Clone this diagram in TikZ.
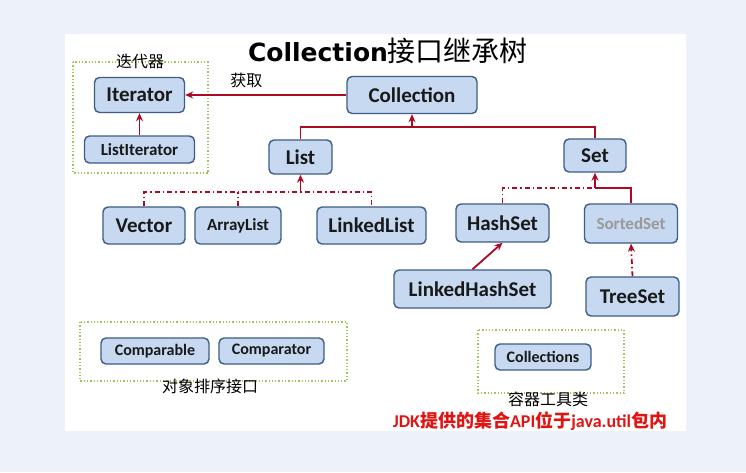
\documentclass[tikz,border=0pt]{standalone}
\usepackage{fontspec}
\setmainfont{Carlito}
\newfontfamily\cjk{Noto Sans CJK SC}
\newfontfamily\titlefont{DejaVu Sans}
\usetikzlibrary{arrows.meta}

\definecolor{pagebg}{RGB}{237,241,249}
\definecolor{boxfill}{RGB}{198,217,241}
\definecolor{boxline}{RGB}{62,92,132}
\definecolor{linkred}{RGB}{170,10,35}
\definecolor{groupgreen}{RGB}{160,195,90}
\definecolor{notered}{RGB}{225,20,20}

\tikzset{
    box/.style={draw=boxline, fill=boxfill, rounded corners=5pt, line width=1.4pt,
        inner sep=0pt, text=black!90, font=\bfseries\fontsize{21}{24}\selectfont},
    smallbox/.style={box, font=\bfseries\fontsize{16}{18}\selectfont},
    group/.style={draw=groupgreen, dotted, line width=1.3pt},
    cjklabel/.style={font=\cjk\fontsize{16}{18}\selectfont},
    link/.style={draw=linkred, line width=1.8pt},
    arr/.style={link, -{Stealth[length=8pt,width=7pt]}},
    dd/.style={link, dash pattern=on 5pt off 3pt on 1.5pt off 3pt},
}

\begin{document}
\begin{tikzpicture}[x=1pt,y=-1pt]
    \fill[pagebg] (0,0) rectangle (746,472);
    \fill[white] (65,34) rectangle (686,431);
    \useasboundingbox (0,0) rectangle (746,472);

    % title
    \node (title) at (388,51) {{\titlefont\bfseries\fontsize{25}{28}\selectfont Collection}{\cjk\fontsize{28}{30}\selectfont 接口继承树}};

    % groups
    \draw[group] (73,62) rectangle (208,173);
    \node[cjklabel] (itername) at (140,61) {迭代器};
    \draw[group] (80,322) rectangle (347,381);
    \node[cjklabel] (sortname) at (210,386) {对象排序接口};
    \draw[group] (478,330) rectangle (624,393);
    \node[cjklabel] (toolname) at (548,399) {容器工具类};

    % nodes
    \node[box, minimum width=90, minimum height=35] (iter) at (139.5,95) {Iterator};
    \node[box, minimum width=110, minimum height=27, font=\bfseries\fontsize{17}{19}\selectfont] (listiter) at (139.5,149.5) {ListIterator};
    \node[box, minimum width=130, minimum height=37] (col) at (412,95) {Collection};
    \node[box, minimum width=63, minimum height=34] (list) at (300.5,157) {List};
    \node[box, minimum width=62, minimum height=33] (set) at (595,155.5) {Set};
    \node[box, minimum width=82, minimum height=37] (vector) at (144,225.5) {Vector};
    \node[box, minimum width=86, minimum height=37, font=\bfseries\fontsize{17}{19}\selectfont] (arraylist) at (238,225.5) {ArrayList};
    \node[box, minimum width=109, minimum height=37] (linkedlist) at (371.5,225.5) {LinkedList};
    \node[box, minimum width=93, minimum height=38] (hashset) at (502.5,223) {HashSet};
    \node[box, minimum width=93, minimum height=39, text=black!40, font=\bfseries\fontsize{17}{19}\selectfont] (sortedset) at (631,223.5) {SortedSet};
    \node[box, minimum width=157, minimum height=38] (lhs) at (472.5,289) {LinkedHashSet};
    \node[box, minimum width=93, minimum height=39] (treeset) at (632.5,296.5) {TreeSet};
    \node[smallbox, minimum width=108, minimum height=26] (comparable) at (155,351) {Comparable};
    \node[smallbox, minimum width=105, minimum height=26] (comparator) at (271.5,351) {Comparator};
    \node[smallbox, minimum width=96, minimum height=26] (collections) at (543,357) {Collections};

    % links
    \draw[arr] (col.west) -- node[cjklabel, above=3pt, pos=0.62] (fetch) {获取} (iter.east);
    \draw[arr] (listiter.north) -- (iter.south);

    \coordinate (colbar) at (412,127);
    \draw[link] (list.north) |- (colbar) -| (set.north);
    \draw[arr] (colbar) -- (col.south);

    \coordinate (listbar) at (300.5,192);
    \draw[dd] (vector.north) |- (linkedlist.north |- listbar) -- (linkedlist.north);
    \draw[dd] (arraylist.north) -- (arraylist.north |- listbar);
    \draw[arr] (listbar) -- (list.south);

    \coordinate (setbar) at (595,188);
    \draw[dd] (hashset.north) |- (setbar);
    \draw[link] (setbar) -| (sortedset.north);
    \draw[arr] (setbar) -- (set.south);

    \draw[arr] (lhs.north) -- (hashset.south);
    \draw[arr, dash pattern=on 5pt off 3pt on 1.5pt off 3pt] (treeset.north) -- (sortedset.south);

    % note
    \node[text=notered, font=\bfseries\fontsize{18}{20}\selectfont] (note) at (530,421)
        {JDK{\cjk\bfseries 提供的集合}API{\cjk\bfseries 位于}java.util{\cjk\bfseries 包内}};
\end{tikzpicture}
\end{document}
